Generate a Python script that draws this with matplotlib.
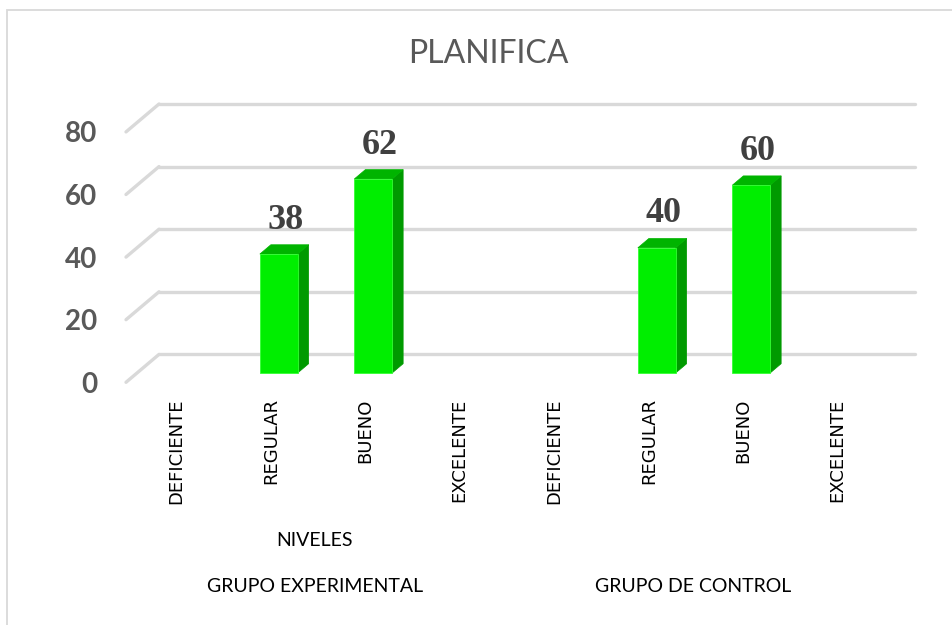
import matplotlib
matplotlib.use("Agg")
import matplotlib.pyplot as plt
import matplotlib.transforms as mtransforms
from matplotlib.patches import Polygon, Rectangle

# data
niveles = ["DEFICIENTE", "REGULAR", "BUENO", "EXCELENTE",
           "DEFICIENTE", "REGULAR", "BUENO", "EXCELENTE"]
valores = [0, 38, 62, 0, 0, 40, 60, 0]
grupos = ["GRUPO EXPERIMENTAL", "GRUPO DE CONTROL"]
yticks = [0, 20, 40, 60, 80]
titulo = "PLANIFICA"

W, H, DPI = 952, 625, 100
fig = plt.figure(figsize=(W / DPI, H / DPI), dpi=DPI)
fig.patch.set_facecolor("white")

# outer chart frame, only left and top edges show
fig.add_artist(Rectangle((7 / W, -0.1), 1.2, 1.1 - 10 / H, transform=fig.transFigure,
                         fill=False, edgecolor="#d9d9d9", linewidth=1.3))

# front face of the bars sits on this axes
ax = fig.add_axes([137 / W, (H - 373) / H, 756 / W, 250.4 / H])
ax.set_xlim(-0.5, len(niveles) - 0.5)
ax.set_ylim(0, 80)
for s in ax.spines.values():
    s.set_visible(False)
ax.tick_params(length=0)

# depth of one bar in pixels (floor is 3 bars deep, bars in the middle)
dpx, dpy = 11.0, 9.3
ppx = 756 / len(niveles)
ppy = 250.4 / 80
ddx, ddy = dpx / ppx, dpy / ppy

grid_c = "#d9d9d9"
x0, x1 = -0.5, len(niveles) - 0.5
for v in yticks:
    # back wall line
    ax.plot([x0 + 2 * ddx, x1 + 2 * ddx], [v + 2 * ddy, v + 2 * ddy], color=grid_c,
            lw=2.4, solid_capstyle="round", clip_on=False, zorder=1)
    # side wall line
    ax.plot([x0 - ddx, x0 + 2 * ddx], [v - ddy, v + 2 * ddy], color=grid_c,
            lw=2.4, solid_capstyle="round", clip_on=False, zorder=1)

w = 0.4
xs = list(range(len(niveles)))
front_c, side_c, top_c = "#00ee00", "#009a00", "#00b400"
for x, v in zip(xs, valores):
    if v == 0:
        continue
    a, b = x - w / 2, x + w / 2
    ax.add_patch(Polygon([(b, 0), (b, v), (b + ddx, v + ddy), (b + ddx, ddy)],
                         closed=True, facecolor=side_c, edgecolor=side_c, lw=0.5,
                         clip_on=False, zorder=3))
    ax.add_patch(Polygon([(a, v), (b, v), (b + ddx, v + ddy), (a + ddx, v + ddy)],
                         closed=True, facecolor=top_c, edgecolor=top_c, lw=0.5,
                         clip_on=False, zorder=3))
bars = ax.bar(xs, valores, width=w, color=front_c, edgecolor="#33ff33", linewidth=0.6,
              zorder=4, clip_on=False)
for rect, v in zip(bars, valores):
    if v == 0:
        rect.set_visible(False)

for x, v in zip(xs, valores):
    if v == 0:
        continue
    ax.annotate(str(v), xy=(x, v), xytext=(dpx * 0.6, dpy + 8),
                textcoords="offset pixels", ha="center", va="bottom",
                fontsize=26, fontweight="bold", family="Liberation Serif",
                color="#404040", zorder=6, annotation_clip=False)

# ticks, moved to the front edge of the floor
shift = mtransforms.ScaledTranslation(-dpx / DPI, -dpy / DPI, fig.dpi_scale_trans)
ax.set_yticks(yticks)
ax.set_yticklabels([str(t) for t in yticks], fontsize=20, fontweight="bold",
                   family="Lato", color="#595959")
ax.tick_params(axis="y", pad=29 * 72 / DPI)
for lab in ax.get_yticklabels():
    lab.set_transform(lab.get_transform() + shift)

ax.set_xticks(xs)
ax.set_xticklabels(niveles, rotation=90, fontsize=13, family="DejaVu Sans",
                   color="black", va="top", ha="center")
ax.tick_params(axis="x", pad=16 * 72 / DPI)
shift_x = mtransforms.ScaledTranslation((-dpx + 3) / DPI, -dpy / DPI, fig.dpi_scale_trans)
for lab in ax.get_xticklabels():
    lab.set_transform(lab.get_transform() + shift_x)

ax.annotate("NIVELES", xy=(1.5, 0), xycoords=("data", "axes fraction"),
            xytext=(-dpx, -168), textcoords="offset pixels", ha="center", va="center",
            fontsize=14, family="Lato", color="black", annotation_clip=False)
for i, g in enumerate(grupos):
    ax.annotate(g, xy=(1.5 + 4 * i, 0), xycoords=("data", "axes fraction"),
                xytext=(-dpx, -213), textcoords="offset pixels", ha="center", va="center",
                fontsize=14, family="Lato", color="black", annotation_clip=False)

fig.text(488 / W, 1 - 54 / H, titulo, ha="center", va="center", fontsize=23,
         family="Lato", color="#595959")

fig.savefig("out.png", dpi=DPI)
